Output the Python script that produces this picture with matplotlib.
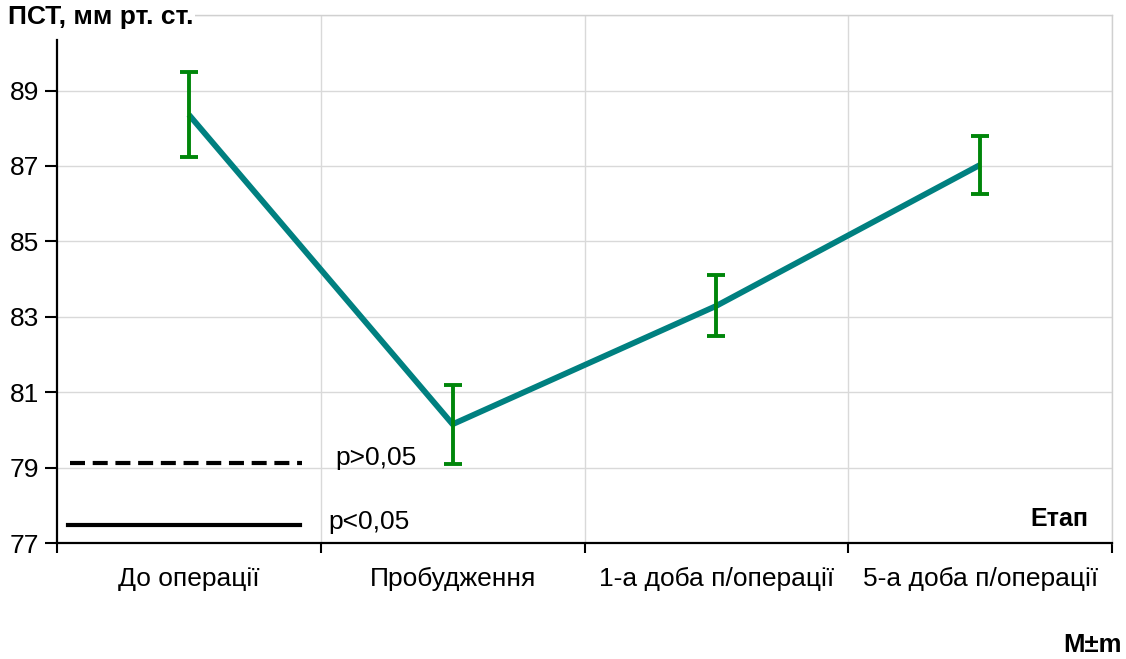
#Plot of PST by stage (M±m)

import numpy as np
import matplotlib
matplotlib.use('Agg')
import matplotlib.pyplot as plt

plt.rcParams['font.family'] = ['Liberation Sans', 'DejaVu Sans']

#Data
stages = ['До операції', 'Пробудження', '1-а доба п/операції', '5-а доба п/операції']
pst_mean = [88.36, 80.15, 83.29, 87.03]
pst_err = [1.12, 1.05, 0.81, 0.77]
yticks = [77, 79, 81, 83, 85, 87, 89]

fs = 19

fig = plt.figure(figsize=(11.26, 6.59), dpi=100)
ax = fig.add_axes([0.0506, 0.176, 0.937, 0.801])

x = np.arange(len(stages))

#Main line and error bars
ax.plot(x, pst_mean, color='#008080', lw=4.2, zorder=3, solid_capstyle='butt')
ax.errorbar(x, pst_mean, yerr=pst_err, fmt='none', ecolor='#00860a',
            elinewidth=2.8, capsize=6.5, capthick=2.8, zorder=4)

#Axes limits and grid
ax.set_xlim(-0.5, len(stages) - 0.5)
ax.set_ylim(77, 91)
ax.set_yticks(yticks)
ax.set_yticklabels([str(v) for v in yticks], fontsize=fs)
ax.tick_params(axis='y', which='major', direction='out', length=9, width=1.5, pad=4)
for yv in yticks[1:] + [91]:
    ax.axhline(yv, color='#d9d9d9', lw=1, zorder=0)

#Category boundaries as major ticks, labels at category centers
bounds = np.arange(len(stages) + 1) - 0.5
ax.set_xticks(bounds)
ax.set_xticklabels([])
ax.tick_params(axis='x', which='major', direction='out', length=7, width=1.5)
ax.set_xticks(x, minor=True)
ax.set_xticklabels(stages, minor=True, fontsize=fs)
ax.tick_params(axis='x', which='minor', length=0, pad=17)
for xv in bounds[1:]:
    ax.axvline(xv, color='#d9d9d9', lw=1, zorder=0)

for s in ['top', 'right']:
    ax.spines[s].set_color('#d0d0d0')
    ax.spines[s].set_linewidth(1)
for s in ['left', 'bottom']:
    ax.spines[s].set_color('black')
    ax.spines[s].set_linewidth(1.6)
ax.spines['left'].set_bounds(77, 90.35)

#Significance legend drawn inside the plot
ax.plot([0.012, 0.232], [0.152, 0.152], transform=ax.transAxes, color='black',
        lw=3, dashes=(3.6, 1.85), clip_on=False)
ax.text(0.264, 0.162, 'p>0,05', transform=ax.transAxes, fontsize=fs,
        va='center', ha='left')
ax.plot([0.010, 0.230], [0.034, 0.034], transform=ax.transAxes, color='black',
        lw=3, clip_on=False)
ax.text(0.257, 0.040, 'p<0,05', transform=ax.transAxes, fontsize=fs,
        va='center', ha='left')

ax.text(0.978, 0.046, 'Етап', transform=ax.transAxes, fontsize=18,
        fontweight='bold', ha='right', va='center')

#Titles
fig.text(0.007, 0.974, 'ПСТ, мм рт. ст.', fontsize=fs, fontweight='bold',
         ha='left', va='center',
         bbox=dict(facecolor='white', edgecolor='none', pad=1))
fig.text(0.996, 0.021, 'M±m', fontsize=18.5, fontweight='bold',
         ha='right', va='center')

plt.savefig('out.png', dpi=100)
